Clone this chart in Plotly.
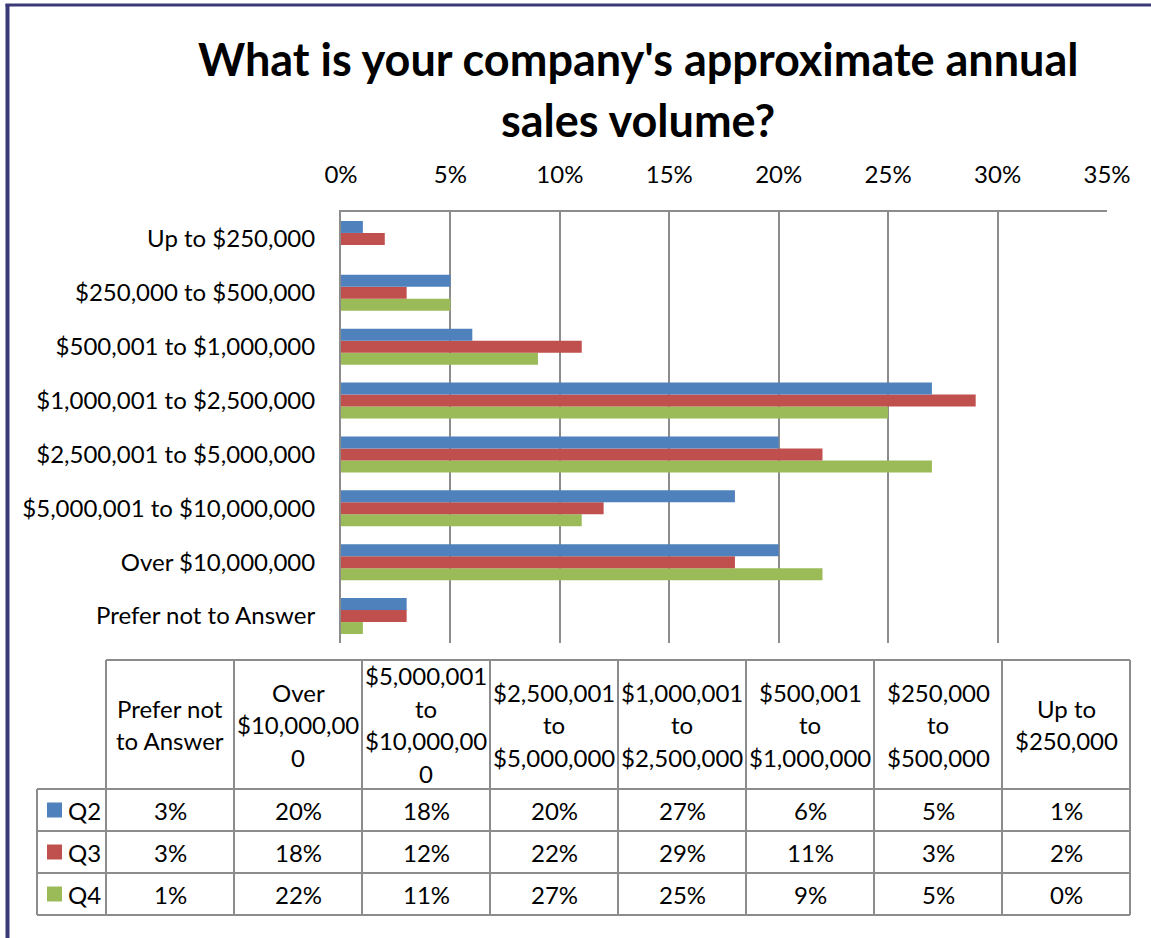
import plotly.graph_objects as go

# Survey categories in data-table order (bottom of the chart to the top)
categories = [
    "Prefer not to Answer",
    "Over $10,000,000",
    "$5,000,001 to $10,000,000",
    "$2,500,001 to $5,000,000",
    "$1,000,001 to $2,500,000",
    "$500,001 to $1,000,000",
    "$250,000 to $500,000",
    "Up to $250,000",
]
# Column headings of the data table, wrapped as they appear in the cells
table_headers = [
    ["Prefer not", "to Answer"],
    ["Over", "$10,000,00", "0"],
    ["$5,000,001", "to", "$10,000,00", "0"],
    ["$2,500,001", "to", "$5,000,000"],
    ["$1,000,001", "to", "$2,500,000"],
    ["$500,001", "to", "$1,000,000"],
    ["$250,000", "to", "$500,000"],
    ["Up to", "$250,000"],
]
series_names = ["Q2", "Q3", "Q4"]
q2 = [3, 20, 18, 20, 27, 6, 5, 1]
q3 = [3, 18, 12, 22, 29, 11, 3, 2]
q4 = [1, 22, 11, 27, 25, 9, 5, 0]
x_ticks = [0, 5, 10, 15, 20, 25, 30, 35]

series_values = [q2, q3, q4]
series_colors = ["#4F81BD", "#C0504D", "#9BBB59"]

FONT = "Lato"
GRID = "#8C8C8C"
FRAME = "#3A3A78"
TXT = 24

W, H = 1151, 938
L, R, T, B = 341, 44, 212, 295
PW, PH = W - L - R, H - T - B


def px(x):
    return (x - L) / PW


def py(y):
    return (H - B - y) / PH


fig = go.Figure()

# Add Q4 first so Q2 sits at the top of each group
for name, vals, color in reversed(list(zip(series_names, series_values, series_colors))):
    fig.add_trace(go.Bar(
        y=categories,
        x=[v / 100 for v in vals],
        name=name,
        orientation="h",
        marker=dict(color=color, line=dict(width=0)),
        showlegend=False,
    ))

shapes = []
annotations = []

# Outer frame (left and top edges)
shapes.append(dict(type="line", xref="paper", yref="paper",
                   x0=px(7.5), x1=px(7.5), y0=py(4), y1=py(H + 2),
                   line=dict(color=FRAME, width=4)))
shapes.append(dict(type="line", xref="paper", yref="paper",
                   x0=px(5.5), x1=px(W + 2), y0=py(5), y1=py(5),
                   line=dict(color=FRAME, width=3)))

# Title
title_font = dict(family=FONT, size=45, color="black")
annotations.append(dict(text="<b>What is your company's approximate annual</b>",
                        xref="paper", yref="paper", x=px(638), y=py(59),
                        xanchor="center", yanchor="middle", showarrow=False,
                        font=title_font))
annotations.append(dict(text="<b>sales volume?</b>",
                        xref="paper", yref="paper", x=px(638), y=py(120),
                        xanchor="center", yanchor="middle", showarrow=False,
                        font=title_font))

# Data table geometry
leg_left = 37
col_left = 106
col_w = 128
ncol = len(categories)
right = col_left + col_w * ncol
head_top, head_bot = 660, 789
row_h = 42
row_edges = [head_bot + row_h * i for i in range(len(series_names) + 1)]
tline = dict(color=GRID, width=2)

shapes.append(dict(type="line", xref="paper", yref="paper",
                   x0=px(col_left), x1=px(right), y0=py(head_top), y1=py(head_top), line=tline))
for ye in row_edges:
    shapes.append(dict(type="line", xref="paper", yref="paper",
                       x0=px(leg_left), x1=px(right), y0=py(ye), y1=py(ye), line=tline))
shapes.append(dict(type="line", xref="paper", yref="paper",
                   x0=px(leg_left), x1=px(leg_left), y0=py(head_bot), y1=py(row_edges[-1]), line=tline))
for i in range(ncol + 1):
    xe = col_left + col_w * i
    shapes.append(dict(type="line", xref="paper", yref="paper",
                       x0=px(xe), x1=px(xe), y0=py(head_top), y1=py(row_edges[-1]), line=tline))

cell_font = dict(family=FONT, size=TXT, color="black")
line_gap = 32.5
head_mid = (head_top + head_bot) / 2
for i, lines in enumerate(table_headers):
    cx = col_left + col_w * (i + 0.5)
    n = len(lines)
    for k, t in enumerate(lines):
        yy = head_mid + (k - (n - 1) / 2) * line_gap
        annotations.append(dict(text=t, xref="paper", yref="paper", x=px(cx), y=py(yy),
                                xanchor="center", yanchor="middle", showarrow=False, font=cell_font))

for r, (name, vals, color) in enumerate(zip(series_names, series_values, series_colors)):
    cy = (row_edges[r] + row_edges[r + 1]) / 2
    shapes.append(dict(type="rect", xref="paper", yref="paper",
                       x0=px(47), x1=px(62), y0=py(cy - 7.5), y1=py(cy + 7.5),
                       fillcolor=color, line=dict(width=0)))
    annotations.append(dict(text=name, xref="paper", yref="paper", x=px(66), y=py(cy),
                            xanchor="left", yanchor="middle", showarrow=False, font=cell_font))
    for i, v in enumerate(vals):
        cx = col_left + col_w * (i + 0.5)
        annotations.append(dict(text=f"{v}%", xref="paper", yref="paper", x=px(cx), y=py(cy),
                                xanchor="center", yanchor="middle", showarrow=False, font=cell_font))

fig.update_layout(
    width=W, height=H,
    margin=dict(l=L, r=R, t=T, b=B, pad=0),
    paper_bgcolor="white", plot_bgcolor="white",
    barmode="group", bargap=0.333, bargroupgap=0,
    font=dict(family=FONT, size=TXT, color="black"),
    xaxis=dict(
        side="top", range=[0, 0.35],
        tickvals=[t / 100 for t in x_ticks],
        ticktext=[f"{t}%" for t in x_ticks],
        showgrid=True, gridcolor=GRID, gridwidth=2,
        showline=True, linecolor=GRID, linewidth=2, mirror=False,
        zeroline=False, ticks="", ticklabelstandoff=17,
        tickfont=dict(family=FONT, size=TXT, color="black"),
        fixedrange=True,
    ),
    yaxis=dict(
        type="category", categoryorder="array", categoryarray=categories,
        showgrid=False, showline=True, linecolor=GRID, linewidth=2,
        zeroline=False, ticks="", ticklabelstandoff=19,
        tickfont=dict(family=FONT, size=TXT, color="black"),
        fixedrange=True,
    ),
    shapes=shapes,
    annotations=annotations,
)

fig.write_html("out.html")
